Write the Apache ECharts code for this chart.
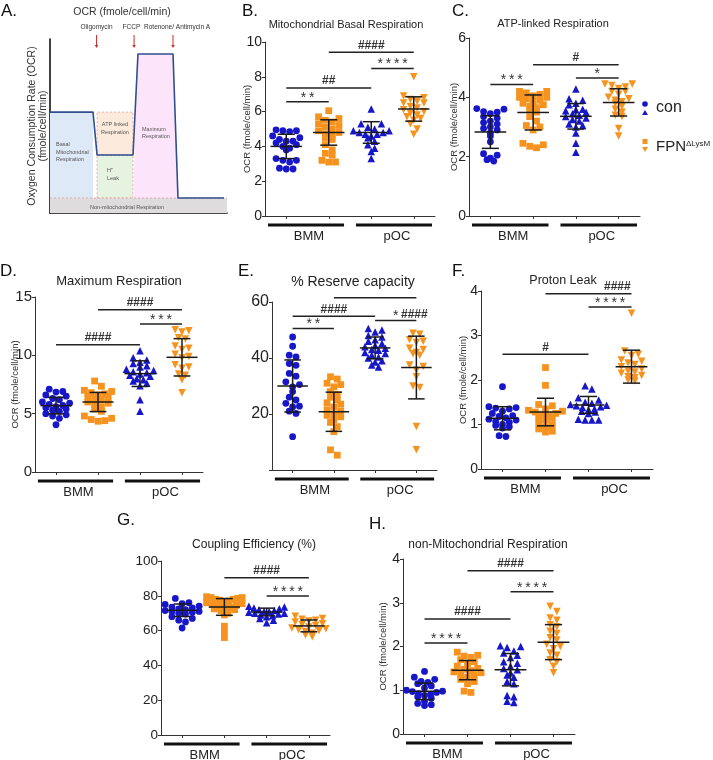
<!DOCTYPE html>
<html><head><meta charset="utf-8">
<script src="https://cdn.jsdelivr.net/npm/echarts@6/dist/echarts.min.js"></script>
<style>html,body{margin:0;padding:0;background:#fff}#c{width:713px;height:760px}</style>
</head><body><div id="c"></div>
<script>
// ---------------- DATA ----------------
const groupNames = ['con BMM', 'FPN BMM', 'con pOC', 'FPN pOC'];
const cellTypes = ['BMM', 'pOC'];

// B. Mitochondrial Basal Respiration
const basalValues = [
  [4.95,4.9,4.9,4.85,4.6,4.5,4.4,4.3,4.3,4.2,4.1,4.0,3.9,3.8,3.3,3.2,3.2,3.1,2.75,2.7,2.7],
  [6.05,5.7,5.6,5.5,5.4,5.3,5.2,5.1,5.0,4.9,4.8,4.7,4.6,4.5,4.4,4.1,3.8,3.6,3.5,3.2,3.1,3.1],
  [6.15,5.3,5.3,5.1,5.0,4.9,4.9,4.8,4.8,4.7,4.7,4.6,4.5,4.3,4.1,3.9,3.7,3.3],
  [8.0,6.9,6.8,6.7,6.6,6.5,6.5,6.3,6.2,6.1,6.0,5.9,5.8,5.7,5.6,5.5,5.3,5.0,4.7]
];
const basalMeanSD = [[4.0,0.7],[4.8,0.73],[4.8,0.62],[6.15,0.7]];
const basalSig = [[1,2,6.56,'**'],[1,3,7.36,'##'],[3,4,8.47,'****'],[2,4,9.41,'####']];

// C. ATP-linked Respiration
const atpValues = [
  [3.62,3.6,3.52,3.5,3.45,3.35,3.3,3.2,3.15,3.1,3.0,2.95,2.9,2.8,2.7,2.5,2.1,2.05,1.95,1.9,1.85],
  [4.2,4.2,4.15,4.1,4.05,4.0,4.0,3.95,3.9,3.85,3.8,3.75,3.7,3.65,3.6,3.5,3.35,3.2,3.05,3.0,2.9,2.45,2.4,2.35,2.3],
  [4.28,3.95,3.9,3.8,3.75,3.6,3.58,3.55,3.5,3.45,3.4,3.35,3.3,3.25,3.2,3.1,3.05,3.0,2.8,2.45,2.15],
  [4.45,4.45,4.4,4.35,4.3,4.2,4.2,4.1,4.0,3.95,3.9,3.85,3.8,3.7,3.6,3.5,3.4,3.35,2.95,2.7]
];
const atpMeanSD = [[2.83,0.55],[3.49,0.59],[3.36,0.43],[3.83,0.46]];
const atpSig = [[1,2,4.43,'***'],[2,4,5.1,'#'],[3,4,4.65,'*']];

// D. Maximum Respiration
const maxValues = [
  [7.1,6.9,6.85,6.6,6.5,6.3,6.2,6.0,5.9,5.8,5.7,5.6,5.5,5.4,5.3,5.2,5.0,4.9,4.8,4.6,4.05],
  [7.8,7.35,7.0,6.9,6.8,6.7,6.6,6.5,6.4,6.3,6.2,6.0,5.9,5.8,5.6,5.4,5.2,4.8,4.6,4.5,4.4,4.35],
  [10.4,9.8,9.6,9.4,9.3,9.1,9.0,8.8,8.7,8.6,8.5,8.4,8.3,8.2,8.0,7.9,7.8,7.6,7.4,6.2,5.2],
  [12.2,12.1,12.0,11.5,11.4,10.8,10.6,10.5,10.1,9.9,9.8,9.2,9.0,8.9,8.4,8.3,7.9,6.8]
];
const maxMeanSD = [[5.69,0.71],[6.0,0.82],[8.43,1.1],[9.83,1.6]];
const maxSig = [[1,3,10.91,'####'],[3,4,12.69,'***'],[2,4,13.9,'####']];

// E. % Reserve capacity
const reserveValues = [
  [47.5,44.2,41,40.4,38,37.4,34.5,33.5,31.5,30.5,29.7,28,26,25,23.8,22.8,22.5,21,20.2,11.9],
  [33.3,32.5,31,30.5,29.7,28,27,26,25,24,23.5,22.5,21.5,21,20,19.5,19,18,17,15.5,13.7,7.2,5.3],
  [50.5,50,49.3,48,47.5,46.5,46,45.2,44.5,44,43.5,43,42.8,42,41.6,41,40.4,40,39,38.6,37.5,36.8],
  [48.8,48.5,46.5,46,45.5,43.5,43,42,41.5,41,37.5,37,35.6,33.3,30,29.5,15.5,7.2]
];
const reserveMeanSD = [[30.0,9.3],[20.8,7.0],[43.6,3.9],[36.6,11.2]];
const reserveSig = [[1,2,50.5,'**'],[1,3,54.9,'####'],[3,4,53.4,'*'],[2,4,61.5,'####',3.95,55.6]];

// F. Proton Leak
const leakValues = [
  [1.85,1.4,1.38,1.37,1.35,1.3,1.25,1.2,1.18,1.15,1.12,1.1,1.07,1.05,1.0,0.98,0.95,0.92,0.75,0.73],
  [2.28,1.88,1.45,1.42,1.35,1.32,1.3,1.28,1.25,1.22,1.2,1.18,1.15,1.1,1.05,1.0,0.95,0.9,0.85,0.83],
  [1.87,1.8,1.6,1.55,1.5,1.48,1.45,1.43,1.42,1.4,1.38,1.35,1.33,1.3,1.28,1.25,1.12,1.1,1.1,1.1],
  [3.5,2.65,2.58,2.55,2.45,2.42,2.38,2.35,2.3,2.25,2.2,2.18,2.15,2.1,2.08,2.05,2.0,1.98]
];
const leakMeanSD = [[1.14,0.26],[1.28,0.31],[1.44,0.19],[2.3,0.37]];
const leakSig = [[1,3,2.58,'#'],[3,4,3.64,'****'],[2,4,3.94,'####',3.67,null]];

// G. Coupling Efficiency (%)
const couplingValues = [
  [78.5,76,75.5,75,74,73.5,73,72.5,72,71.5,71,71,70.5,70,69.5,68,67,66,65,61.5],
  [79.5,79,79,78.5,78,78,77.5,77,76.5,76,75.5,75,74.5,74,73.5,73,72.5,72,71.5,70,69,62.5,59.3,56],
  [74,73.5,73,72.5,72,71.5,71,71,70.5,70,70,69.5,69,68.5,68,67,66,64.5],
  [68.3,67,66.5,66,65.5,65,64,63.5,63,62,61.5,61,60.5,60,59.5,58.5,57.5,56.5]
];
const couplingMeanSD = [[71.7,3.6],[73.6,4.8],[70.7,2.2],[62.7,3.4]];
const couplingSig = [[2,4,90.4,'####'],[3,4,79.9,'****']];

// H. non-Mitochondrial Respiration
const nonMitoValues = [
  [1.43,1.3,1.25,1.2,1.18,1.15,1.1,1.05,1.0,0.98,0.97,0.95,0.92,0.9,0.88,0.85,0.82,0.75,0.7,0.67,0.65],
  [1.87,1.8,1.78,1.75,1.7,1.65,1.6,1.55,1.5,1.48,1.45,1.42,1.4,1.38,1.35,1.3,1.25,1.2,1.15,0.98,0.95],
  [2.02,2.0,1.98,1.9,1.85,1.8,1.75,1.65,1.62,1.55,1.5,1.47,1.4,1.35,1.3,1.2,1.15,0.88,0.85,0.75,0.72],
  [2.92,2.8,2.65,2.6,2.5,2.45,2.35,2.3,2.2,2.15,2.05,2.0,1.95,1.85,1.8,1.7,1.65,1.55,1.4]
];
const nonMitoMeanSD = [[0.975,0.19],[1.46,0.22],[1.47,0.37],[2.1,0.4]];
const nonMitoSig = [[1,2,2.08,'****'],[1,3,2.63,'####'],[3,4,3.25,'****'],[2,4,3.73,'####']];

// A. schematic OCR profile (arbitrary units 0-100)
const schemProfileX = [0, 24.3, 26.6, 46.9, 49.7, 69.5, 72.3, 98.3];
const schemProfileY = [58, 58, 33.3, 33.3, 91.4, 91.4, 8.6, 8.6];
const schemDrugs = ['Oligomycin', 'FCCP', 'Rotenone/ Antimycin A'];
const schemDrugArrowX = [26.3, 47.5, 69.5];
const schemDrugLabelX = [26.3, 46, 71.8];

// ---------------- STYLE / LAYOUT ----------------
const FONT = '"Liberation Sans", Arial, Helvetica, sans-serif';
const BLUE = '#1717c9';
const ORANGE = '#f6931f';
const INK = '#222';
const groupSymbols = ['circle', 'rect', 'triangle', 'triangle'];
const groupRotate = [0, 0, 0, 180];
const groupColors = [BLUE, ORANGE, BLUE, ORANGE];

const panels = [
  {values: basalValues, ms: basalMeanSD, sig: basalSig, max: 10, interval: 2, yName: true, nameGap: 13,
   grid: {left: 265, top: 42, width: 170, height: 174}, labelSize: 14,
   title: 'Mitochondrial Basal Respiration', titleSize: 11, titlePos: [346, 25], letter: 'B.', letterPos: [242, 11]},
  {values: atpValues, ms: atpMeanSD, sig: atpSig, max: 6, interval: 2, yName: true, nameGap: 9.5,
   grid: {left: 469, top: 38, width: 171, height: 178}, labelSize: 14,
   title: 'ATP-linked Respiration', titleSize: 11, titlePos: [553, 24], letter: 'C.', letterPos: [452, 11]},
  {values: maxValues, ms: maxMeanSD, sig: maxSig, max: 15, interval: 5, yName: true, nameGap: 14.5,
   grid: {left: 35, top: 297, width: 168, height: 175}, labelSize: 15,
   title: 'Maximum Respiration', titleSize: 13, titlePos: [119, 281], letter: 'D.', letterPos: [0, 271]},
  {values: reserveValues, ms: reserveMeanSD, sig: reserveSig, max: 60, interval: 20, yName: false, hideZero: true,
   grid: {left: 272, top: 302, width: 165, height: 168}, labelSize: 16,
   title: '% Reserve capacity', titleSize: 14, titlePos: [353, 282], letter: 'E.', letterPos: [238, 271]},
  {values: leakValues, ms: leakMeanSD, sig: leakSig, max: 4, interval: 1, yName: true, nameGap: 12.5,
   grid: {left: 481, top: 291, width: 172, height: 178}, labelSize: 14,
   title: 'Proton Leak', titleSize: 12.5, titlePos: [563, 281], letter: 'F.', letterPos: [452, 271]},
  {values: couplingValues, ms: couplingMeanSD, sig: couplingSig, max: 100, interval: 20, yName: false,
   grid: {left: 161, top: 561, width: 169, height: 174}, labelSize: 13.5,
   title: 'Coupling Efficiency (%)', titleSize: 12, titlePos: [254, 545], letter: 'G.', letterPos: [117, 520]},
  {values: nonMitoValues, ms: nonMitoMeanSD, sig: nonMitoSig, max: 4, interval: 1, yName: true, nameGap: 14.5,
   grid: {left: 403, top: 559, width: 172, height: 175}, labelSize: 14,
   title: 'non-Mitochondrial Respiration', titleSize: 12, titlePos: [488, 545], letter: 'H.', letterPos: [369, 524]}
];

// Prism-like scatter layout: points grouped into rows by value, rows spread horizontally
function swarmOffsets(vals, pxPerUnit, d, maxHalf) {
  const order = vals.map((v, i) => i).sort((a, b) => vals[b] - vals[a]);
  const res = new Array(vals.length).fill(0);
  const binH = d * 0.8;
  const rows = [];
  let cur = [order[0]];
  for (let k = 1; k < order.length; k++) {
    const i = order[k];
    if ((vals[cur[0]] - vals[i]) * pxPerUnit < binH) cur.push(i);
    else { rows.push(cur); cur = [i]; }
  }
  rows.push(cur);
  rows.forEach(r => {
    const n = r.length;
    const s = n > 1 ? Math.min(d, 2 * maxHalf / (n - 1)) : 0;
    const slots = [];
    for (let k = 0; k < n; k++) slots.push((k - (n - 1) / 2) * s);
    slots.sort((a, b) => Math.abs(b) - Math.abs(a) || a - b); // outer slots first -> higher values outside
    r.forEach((i, k) => { res[i] = slots[k]; });
  });
  return res;
}

const grids = [], xAxes = [], yAxes = [], series = [], graphics = [];

// ---------- Panel A ----------
grids.push({left: 50, top: 39, width: 177, height: 174});
xAxes.push({gridIndex: 0, type: 'value', min: 0, max: 100, axisLine: {show: true, onZero: false, lineStyle: {color: '#111', width: 1.6}},
  axisTick: {show: false}, axisLabel: {show: false}, splitLine: {show: false}});
yAxes.push({gridIndex: 0, type: 'value', min: 0, max: 100, axisLine: {show: true, lineStyle: {color: '#111', width: 1.6}},
  axisTick: {show: false}, axisLabel: {show: false}, splitLine: {show: false},
  name: 'Oxygen Consumption Rate (OCR)\n(fmole/cell/min)', nameLocation: 'middle', nameGap: 1, nameMoveOverlap: false,
  nameTextStyle: {fontFamily: FONT, fontSize: 10.5, color: '#333', lineHeight: 11}});

const base = schemProfileY[6];
const schemRegions = [
  {pts: [[schemProfileX[0], base], [schemProfileX[1], base], [schemProfileX[1], schemProfileY[0]], [schemProfileX[0], schemProfileY[0]]], fill: '#dde9f6'},
  {pts: [[schemProfileX[2], schemProfileY[2]], [schemProfileX[3], schemProfileY[2]], [schemProfileX[3], schemProfileY[0]], [schemProfileX[2], schemProfileY[0]]], fill: '#fcebdc', dashed: true},
  {pts: [[schemProfileX[2], base], [schemProfileX[3], base], [schemProfileX[3], schemProfileY[2]], [schemProfileX[2], schemProfileY[2]]], fill: '#e7f3e1', dashed: true},
  {pts: [[schemProfileX[3], base], [schemProfileX[4], schemProfileY[4]], [schemProfileX[5], schemProfileY[5]], [schemProfileX[6], base]], fill: '#fce5fb'},
  {pts: [[0, 0], [100, 0], [100, base], [0, base]], fill: '#dedcdc'}
];
const schemNotes = [
  {x: 3.4, y: 35, text: 'Basal\nMitochondrial\nRespiration', align: 'left'},
  {x: 36.7, y: 48.6, text: 'ATP linked\nRespiration', align: 'center'},
  {x: 32.2, y: 22.1, text: 'H⁺\nLeak', align: 'left'},
  {x: 52, y: 46, text: 'Maximum\nRespiration', align: 'left'},
  {x: 43.5, y: 3.2, text: 'Non-mitochondrial Respiration', align: 'center'}
];
series.push({
  type: 'custom', xAxisIndex: 0, yAxisIndex: 0, z: 1, silent: true,
  data: schemRegions.map((r, i) => [i]),
  renderItem: function (params, api) {
    const r = schemRegions[params.dataIndex];
    const pts = r.pts.map(p => api.coord(p));
    return {type: 'polygon', shape: {points: pts}, style: {fill: r.fill, stroke: r.dashed ? '#e49a9a' : null, lineWidth: 0.8, lineDash: r.dashed ? [2, 2] : null}};
  }
});
series.push({type: 'line', xAxisIndex: 0, yAxisIndex: 0, z: 2, silent: true, symbol: 'none',
  data: [[0, base], [100, base]], lineStyle: {color: '#e49a9a', width: 0.8, type: [2, 2]}});
series.push({type: 'line', xAxisIndex: 0, yAxisIndex: 0, z: 3, silent: true, symbol: 'none',
  data: schemProfileX.map((x, i) => [x, schemProfileY[i]]), lineStyle: {color: '#2f4f8f', width: 1.6}});
series.push({
  type: 'custom', xAxisIndex: 0, yAxisIndex: 0, z: 4, silent: true, clip: false,
  data: schemNotes.map((n, i) => [i]),
  renderItem: function (params, api) {
    const n = schemNotes[params.dataIndex];
    const p = api.coord([n.x, n.y]);
    return {type: 'text', style: {text: n.text, x: p[0], y: p[1], align: n.align, textAlign: n.align, verticalAlign: 'middle', textVerticalAlign: 'middle',
      font: '5.5px ' + FONT, fill: '#555', lineHeight: 7.5}};
  }
});
series.push({
  type: 'custom', xAxisIndex: 0, yAxisIndex: 0, z: 4, silent: true, clip: false,
  data: schemDrugs.map((d, i) => [i]),
  renderItem: function (params, api) {
    const i = params.dataIndex;
    const a0 = api.coord([schemDrugArrowX[i], 102.3]);
    const a1 = api.coord([schemDrugArrowX[i], 94.8]);
    const lp = api.coord([schemDrugLabelX[i], 106.8]);
    return {type: 'group', children: [
      {type: 'line', shape: {x1: a0[0], y1: a0[1], x2: a1[0], y2: a1[1] - 2}, style: {stroke: '#c9302c', lineWidth: 1}},
      {type: 'polygon', shape: {points: [[a1[0] - 1.8, a1[1] - 3], [a1[0] + 1.8, a1[1] - 3], [a1[0], a1[1]]]}, style: {fill: '#c9302c'}},
      {type: 'text', style: {text: schemDrugs[i], x: lp[0], y: lp[1], align: 'center', textAlign: 'center', verticalAlign: 'middle', textVerticalAlign: 'middle', font: '6.5px ' + FONT, fill: '#333'}}
    ]};
  }
});

// ---------- Panels B-H ----------
panels.forEach((P, pi) => {
  const g = pi + 1;
  grids.push(P.grid);
  xAxes.push({gridIndex: g, type: 'category', data: ['', '', '', ''], boundaryGap: true,
    axisLine: {show: true, lineStyle: {color: '#333', width: 1}},
    axisTick: {show: true, alignWithLabel: true, length: 3, inside: false, lineStyle: {color: '#333', width: 1}},
    axisLabel: {show: false}, splitLine: {show: false}});
  const valX = xAxes.length;
  xAxes.push({gridIndex: g, type: 'value', min: 0, max: 4, show: false, splitLine: {show: false}});
  yAxes.push({gridIndex: g, type: 'value', min: 0, max: P.max, interval: P.interval,
    axisLine: {show: true, lineStyle: {color: '#333', width: 1}},
    axisTick: {show: true, length: 3, lineStyle: {color: '#333', width: 1}},
    splitLine: {show: false},
    axisLabel: {fontFamily: FONT, fontSize: P.labelSize, color: INK, margin: 3,
      formatter: v => (P.hideZero && v === 0) ? '' : String(v)},
    name: P.yName ? 'OCR (fmole/cell/min)' : '', nameLocation: 'middle', nameGap: P.nameGap || 14, nameMoveOverlap: false,
    nameTextStyle: {fontFamily: FONT, fontSize: 9.5, color: '#333'}});
  const yIdx = g;
  const pxPerUnit = P.grid.height / P.max;
  const band = P.grid.width / 4;

  P.values.forEach((vals, gi) => {
    const offs = swarmOffsets(vals, pxPerUnit, 6.8, band * 0.42);
    series.push({
      type: 'scatter', name: groupNames[gi], xAxisIndex: valX, yAxisIndex: yIdx, z: 3,
      symbol: groupSymbols[gi], symbolRotate: groupRotate[gi], symbolSize: groupSymbols[gi] === 'triangle' ? 7.5 : 6.8,
      itemStyle: {color: groupColors[gi], opacity: 1}, clip: false,
      data: vals.map((v, k) => [gi + 0.5 + offs[k] / band, v])
    });
  });

  // mean +/- SD
  series.push({
    type: 'custom', xAxisIndex: valX, yAxisIndex: yIdx, z: 5, silent: true, clip: false,
    data: P.ms.map((m, i) => [i + 0.5, m[0], m[1]]),
    renderItem: function (params, api) {
      const cx = api.value(0), m = api.value(1), sd = api.value(2);
      const c = api.coord([cx, m]), t = api.coord([cx, m + sd]), b = api.coord([cx, m - sd]);
      const hw = api.size([0.37, 0])[0], cw = api.size([0.2, 0])[0];
      const st = {stroke: '#1a1a1a', lineWidth: 1.5};
      return {type: 'group', children: [
        {type: 'line', shape: {x1: c[0] - hw, y1: c[1], x2: c[0] + hw, y2: c[1]}, style: st},
        {type: 'line', shape: {x1: c[0], y1: t[1], x2: c[0], y2: b[1]}, style: st},
        {type: 'line', shape: {x1: c[0] - cw, y1: t[1], x2: c[0] + cw, y2: t[1]}, style: st},
        {type: 'line', shape: {x1: c[0] - cw, y1: b[1], x2: c[0] + cw, y2: b[1]}, style: st}
      ]};
    }
  });

  // significance brackets
  series.push({
    type: 'custom', xAxisIndex: valX, yAxisIndex: yIdx, z: 6, silent: true, clip: false,
    data: P.sig.map(s => [s[0] - 0.5, s[1] - 0.5, s[2]]),
    renderItem: function (params, api) {
      const s = P.sig[params.dataIndex];
      const a = api.coord([api.value(0), api.value(2)]), b = api.coord([api.value(1), api.value(2)]);
      const lx = s[4] != null ? api.coord([s[4] - 0.5, 0])[0] : (a[0] + b[0]) / 2;
      let ly = s[5] != null ? api.coord([0, s[5]])[1] : a[1] - 1;
      const isStar = s[3].indexOf('*') >= 0;
      const txt = isStar ? s[3].split('').join('\u2009') : s[3];
      if (isStar && s[5] == null) ly = a[1] + 3;
      return {type: 'group', children: [
        {type: 'line', shape: {x1: a[0], y1: a[1], x2: b[0], y2: b[1]}, style: {stroke: '#222', lineWidth: 1.5}},
        {type: 'text', style: {text: txt, x: lx, y: ly, align: 'center', textAlign: 'center',
          verticalAlign: s[5] != null ? 'middle' : 'bottom', textVerticalAlign: s[5] != null ? 'middle' : 'bottom',
          font: (isStar ? '14px ' : 'bold 12px ') + FONT, fill: '#333'}}
      ]};
    }
  });

  // cell-type group bars under axis
  series.push({
    type: 'custom', xAxisIndex: valX, yAxisIndex: yIdx, z: 6, silent: true, clip: false,
    data: cellTypes.map((c, i) => [i * 2 + (i === 0 ? 0.07 : 0.14), i * 2 + (i === 0 ? 1.86 : 1.93)]),
    renderItem: function (params, api) {
      const a = api.coord([api.value(0), 0]), b = api.coord([api.value(1), 0]);
      const y = a[1] + 9;
      return {type: 'group', children: [
        {type: 'rect', shape: {x: a[0], y: y - 1.5, width: b[0] - a[0], height: 3}, style: {fill: '#111'}},
        {type: 'text', style: {text: cellTypes[params.dataIndex], x: (a[0] + b[0]) / 2 + 3, y: y + 11, align: 'center', textAlign: 'center',
          verticalAlign: 'middle', textVerticalAlign: 'middle', font: '13px ' + FONT, fill: INK}}
      ]};
    }
  });

  graphics.push({type: 'text', x: P.titlePos[0], y: P.titlePos[1], style: {text: P.title, font: P.titleSize + 'px ' + FONT, fill: INK,
    align: 'center', textAlign: 'center', verticalAlign: 'middle', textVerticalAlign: 'middle'}});
  graphics.push({type: 'text', x: P.letterPos[0], y: P.letterPos[1], style: {text: P.letter, font: '17px ' + FONT, fill: '#111',
    align: 'left', textAlign: 'left', verticalAlign: 'middle', textVerticalAlign: 'middle'}});
});

// Panel A texts
graphics.push({type: 'text', x: 1, y: 11, style: {text: 'A.', font: '17px ' + FONT, fill: '#111', align: 'left', textAlign: 'left', verticalAlign: 'middle', textVerticalAlign: 'middle'}});
graphics.push({type: 'text', x: 122, y: 12, style: {text: 'OCR (fmole/cell/min)', font: '10.5px ' + FONT, fill: '#333', align: 'center', textAlign: 'center', verticalAlign: 'middle', textVerticalAlign: 'middle'}});

// Legend
graphics.push({type: 'circle', shape: {cx: 645, cy: 104, r: 2.8}, style: {fill: BLUE}});
graphics.push({type: 'polygon', shape: {points: [[642, 115], [648, 115], [645, 110]]}, style: {fill: BLUE}});
graphics.push({type: 'text', x: 656, y: 108, style: {text: 'con', font: '16px ' + FONT, fill: INK, align: 'left', textAlign: 'left', verticalAlign: 'middle', textVerticalAlign: 'middle'}});
graphics.push({type: 'rect', shape: {x: 642.5, y: 139, width: 5, height: 5}, style: {fill: ORANGE}});
graphics.push({type: 'polygon', shape: {points: [[642, 147], [648, 147], [645, 152]]}, style: {fill: ORANGE}});
graphics.push({type: 'text', x: 656, y: 147, style: {text: '{m|FPN}{s|ΔLysM}', fill: INK, align: 'left', textAlign: 'left', verticalAlign: 'middle', textVerticalAlign: 'middle',
  rich: {m: {fontFamily: FONT, fontSize: 15, fill: INK, color: INK}, s: {fontFamily: FONT, fontSize: 8, fill: INK, color: INK, verticalAlign: 'top', padding: [0, 0, 7, 0]}}}});

const chart = echarts.init(document.getElementById('c'), null, {renderer: 'canvas'});
chart.setOption({
  animation: false,
  backgroundColor: '#fff',
  grid: grids,
  xAxis: xAxes,
  yAxis: yAxes,
  series: series,
  graphic: graphics
});
</script></body></html>
